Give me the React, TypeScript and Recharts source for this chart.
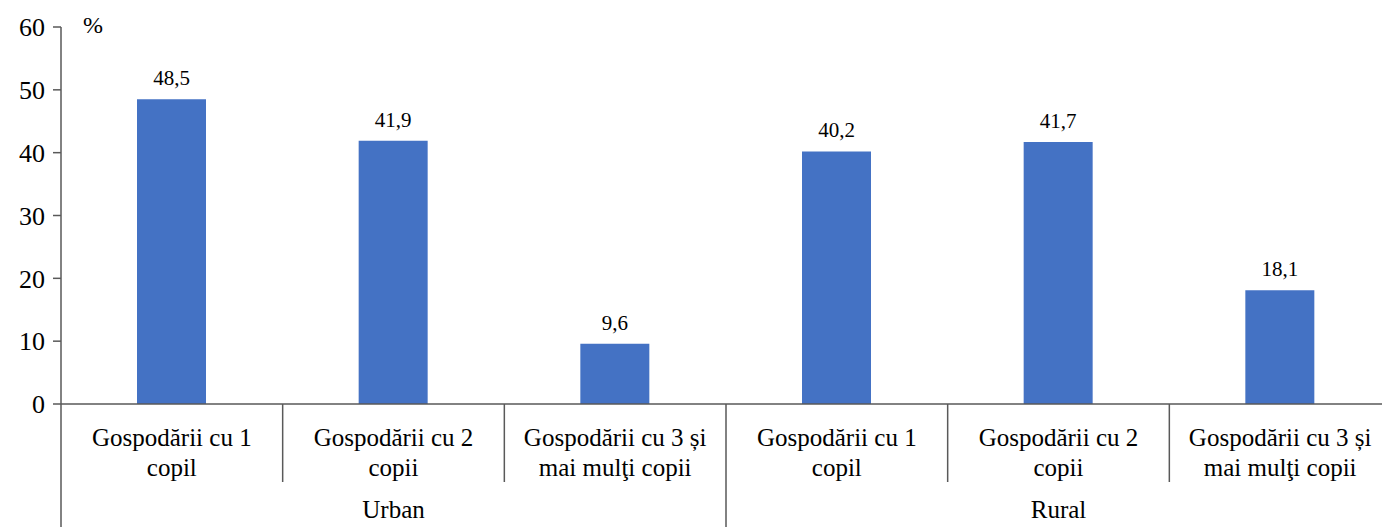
import React from "react";
import { BarChart, Bar, XAxis, YAxis, LabelList } from "recharts";

const categories = ["Gospodării cu 1|copil", "Gospodării cu 2|copii", "Gospodării cu 3 și|mai mulţi copii", "Gospodării cu 1|copil", "Gospodării cu 2|copii", "Gospodării cu 3 și|mai mulţi copii"];
const groups = ["Urban", "Urban", "Urban", "Rural", "Rural", "Rural"];
const values = [48.5, 41.9, 9.6, 40.2, 41.7, 18.1];
const yTicks = [0, 10, 20, 30, 40, 50, 60];

const data = categories.map((c, i) => ({ cat: c, group: groups[i], value: values[i], idx: i }));

const W = 1400;
const H = 527;
const YW = 61;
const MR = 9;
const BW = (W - YW - MR) / categories.length;
const FONT = "Liberation Serif, Times New Roman, DejaVu Serif, serif";
const AXIS = "#595959";
const FS = 25;

const CatTick = (props: any) => {
  const { x, y, index } = props;
  const lines = String(categories[index]).split("|");
  const isGroupMiddle = index % 3 === 1;
  const isGroupEnd = index % 3 === 2;
  return (
    <g>
      {lines.map((l, k) => (
        <text key={k} x={x} y={y + 42 + k * 30} textAnchor="middle" style={{ fontFamily: FONT, fontSize: FS }} fill="#000">
          {l}
        </text>
      ))}
      {index < categories.length - 1 && (
        <line x1={x + BW / 2} x2={x + BW / 2} y1={y} y2={isGroupEnd ? H : y + 78} stroke={AXIS} strokeWidth={1.5} />
      )}
      {index === 0 && <line x1={x - BW / 2} x2={x - BW / 2} y1={y} y2={H} stroke={AXIS} strokeWidth={1.5} />}
      {isGroupMiddle && (
        <text x={x} y={y + 114} textAnchor="middle" style={{ fontFamily: FONT, fontSize: FS }} fill="#000">
          {groups[index]}
        </text>
      )}
    </g>
  );
};

export default function App() {
  return (
    <div style={{ position: "absolute", left: 0, top: 0, width: W, height: H, background: "#fff" }}>
      <BarChart width={W} height={H} data={data} margin={{ top: 27, right: MR, left: 0, bottom: 0 }} barCategoryGap={0}>
        <YAxis
          width={YW}
          domain={[0, 60]}
          ticks={yTicks}
          interval={0}
          tickSize={8}
          tickMargin={8}
          axisLine={{ stroke: AXIS, strokeWidth: 1.5 }}
          tickLine={{ stroke: AXIS, strokeWidth: 1.5 }}
          tick={{ style: { fontFamily: FONT, fontSize: 26 }, fill: "#000" }}
        />
        <XAxis
          dataKey="idx"
          height={H - 404}
          interval={0}
          tickSize={0}
          tickMargin={0}
          tickLine={false}
          axisLine={{ stroke: AXIS, strokeWidth: 1.5 }}
          tick={<CatTick />}
        />
        <Bar dataKey="value" fill="#4472C4" barSize={69} isAnimationActive={false}>
          <LabelList
            dataKey="value"
            position="top"
            offset={14}
            formatter={(v: any) => String(v).replace(".", ",")}
            style={{ fontFamily: FONT, fontSize: 21, fill: "#000" }}
          />
        </Bar>
      </BarChart>
      <span style={{ position: "absolute", left: 83, top: 12, fontFamily: FONT, fontSize: 24, color: "#000" }}>%</span>
    </div>
  );
}
